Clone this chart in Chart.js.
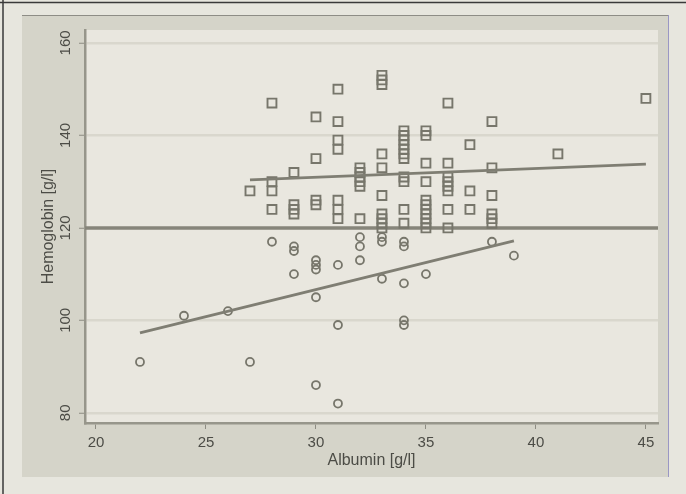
<!DOCTYPE html>
<html>
<head>
<meta charset="utf-8">
<script src="https://cdn.jsdelivr.net/npm/chart.js@4/dist/chart.umd.min.js"></script>
<style>
  html, body { margin: 0; padding: 0; background: #e7e6de; }
  #wrap { position: absolute; left: 0; top: 0; width: 686px; height: 494px; }
</style>
</head>
<body>
<div id="wrap"><canvas id="c" width="686" height="494"></canvas></div>
<script>
// ---- Data ----
// Hemoglobin >= 120 (square markers)
const squareAlb = [
  27,
  28, 28, 28, 28,
  29, 29, 29, 29,
  30, 30, 30, 30,
  31, 31, 31, 31, 31, 31, 31,
  32, 32, 32, 32, 32, 32,
  33, 33, 33, 33, 33, 33, 33, 33, 33, 33,
  34, 34, 34, 34, 34, 34, 34, 34, 34, 34, 34,
  35, 35, 35, 35, 35, 35, 35, 35, 35, 35, 35,
  36, 36, 36, 36, 36, 36, 36, 36,
  37, 37, 37,
  38, 38, 38, 38, 38, 38,
  41,
  45
];
const squareHb = [
  128,
  147, 130, 128, 124,
  132, 125, 124, 123,
  144, 135, 126, 125,
  150, 143, 139, 137, 126, 124, 122,
  133, 132, 131, 130, 129, 122,
  153, 152, 151, 136, 133, 127, 123, 122, 121, 120,
  141, 140, 139, 138, 137, 136, 135, 131, 130, 124, 121,
  141, 140, 134, 130, 126, 125, 124, 123, 122, 121, 120,
  147, 134, 131, 130, 129, 128, 124, 120,
  138, 128, 124,
  143, 133, 127, 123, 122, 121,
  136,
  148
];
// Hemoglobin < 120 (circle markers)
const circleAlb = [
  22, 24, 26, 27, 28,
  29, 29, 29,
  30, 30, 30, 30, 30,
  31, 31, 31,
  32, 32, 32,
  33, 33, 33,
  34, 34, 34, 34, 34,
  35, 38, 39
];
const circleHb = [
  91, 101, 102, 91, 117,
  116, 115, 110,
  113, 112, 111, 105, 86,
  112, 99, 82,
  118, 116, 113,
  118, 117, 109,
  117, 116, 108, 100, 99,
  110, 117, 114
];
// Fitted lines (end points)
const fitHighAlb = [27, 45];
const fitHighHb = [130.4, 133.8];
const fitLowAlb = [22, 39];
const fitLowHb = [97.3, 117.2];
// Reference line
const refHb = 120;
// Axes
const xTicks = [20, 25, 30, 35, 40, 45];
const yTicks = [80, 100, 120, 140, 160];
const xRange = [19.5, 45.55];
const yRange = [77.8, 162.8];

const toPts = (xs, ys) => xs.map((x, i) => ({ x: x, y: ys[i] }));

const markerColor = '#77766b';
const textColor = '#4c4c46';

const bgPlugin = {
  id: 'bg',
  beforeDraw(chart) {
    const ctx = chart.ctx;
    const a = chart.chartArea;
    ctx.save();
    ctx.fillStyle = '#e7e6de';
    ctx.fillRect(0, 0, 686, 494);
    ctx.strokeStyle = '#3a3a3a';
    ctx.lineWidth = 1.5;
    ctx.beginPath();
    ctx.moveTo(0, 2.5); ctx.lineTo(686, 2.5);
    ctx.moveTo(3, 0); ctx.lineTo(3, 494);
    ctx.stroke();
    ctx.fillStyle = '#d5d4c9';
    ctx.fillRect(22, 15, 646, 462);
    ctx.strokeStyle = '#8e8d86';
    ctx.lineWidth = 1;
    ctx.beginPath();
    ctx.moveTo(22, 15.5); ctx.lineTo(668, 15.5);
    ctx.stroke();
    ctx.strokeStyle = '#9a97c4';
    ctx.beginPath();
    ctx.moveTo(668.5, 15); ctx.lineTo(668.5, 477);
    ctx.stroke();
    ctx.fillStyle = '#e9e7df';
    ctx.fillRect(a.left, a.top, a.right - a.left, a.bottom - a.top);
    ctx.restore();
  }
};

new Chart(document.getElementById('c'), {
  type: 'scatter',
  data: {
    datasets: [
      {
        type: 'line',
        label: 'ref',
        data: [{ x: xRange[0], y: refHb }, { x: xRange[1], y: refHb }],
        borderColor: '#86857a',
        borderWidth: 3.5,
        pointRadius: 0,
        fill: false,
        order: 3
      },
      {
        label: 'Hb >= 120',
        data: toPts(squareAlb, squareHb),
        pointStyle: 'rect',
        pointRadius: 6.3,
        borderColor: markerColor,
        backgroundColor: 'rgba(0,0,0,0)',
        borderWidth: 1.9,
        order: 2
      },
      {
        label: 'Hb < 120',
        data: toPts(circleAlb, circleHb),
        pointStyle: 'circle',
        pointRadius: 4,
        borderColor: markerColor,
        backgroundColor: 'rgba(0,0,0,0)',
        borderWidth: 1.8,
        order: 2
      },
      {
        type: 'line',
        label: 'fit high',
        data: toPts(fitHighAlb, fitHighHb),
        borderColor: '#7f7e73',
        borderWidth: 2.8,
        pointRadius: 0,
        fill: false,
        order: 1
      },
      {
        type: 'line',
        label: 'fit low',
        data: toPts(fitLowAlb, fitLowHb),
        borderColor: '#7f7e73',
        borderWidth: 2.8,
        pointRadius: 0,
        fill: false,
        order: 1
      }
    ]
  },
  options: {
    responsive: false,
    animation: false,
    layout: { padding: { left: 22, top: 30, right: 28, bottom: 17 } },
    plugins: { legend: { display: false }, tooltip: { enabled: false } },
    scales: {
      x: {
        type: 'linear',
        min: xRange[0],
        max: xRange[1],
        afterBuildTicks: (s) => { s.ticks = xTicks.map(v => ({ value: v })); },
        afterFit: (s) => { s.height = 54; },
        grid: {
          drawOnChartArea: false,
          drawTicks: true,
          tickLength: 6,
          tickColor: '#8d8c82',
          tickWidth: 1
        },
        border: { display: true, color: '#97968b', width: 2.5 },
        ticks: {
          padding: 5,
          maxRotation: 0,
          minRotation: 0,
          color: textColor,
          font: { family: '"Liberation Sans", Arial, sans-serif', size: 15 }
        },
        title: {
          display: true,
          text: 'Albumin [g/l]',
          color: textColor,
          font: { family: '"Liberation Sans", Arial, sans-serif', size: 16 },
          padding: { top: 0, bottom: 7 }
        }
      },
      y: {
        type: 'linear',
        min: yRange[0],
        max: yRange[1],
        afterBuildTicks: (s) => { s.ticks = yTicks.map(v => ({ value: v })); },
        afterFit: (s) => { s.width = 63; },
        grid: {
          drawOnChartArea: true,
          color: (c) => (c.tick && c.tick.value === refHb) ? 'rgba(0,0,0,0)' : '#d9d7cd',
          lineWidth: 2.5,
          drawTicks: true,
          tickLength: 6,
          tickColor: '#8d8c82',
          tickWidth: 1
        },
        border: { display: true, color: '#97968b', width: 2.5 },
        ticks: {
          padding: 1,
          minRotation: 90,
          maxRotation: 90,
          crossAlign: 'center',
          color: textColor,
          font: { family: '"Liberation Sans", Arial, sans-serif', size: 15 }
        },
        title: {
          display: true,
          text: 'Hemoglobin [g/l]',
          color: textColor,
          font: { family: '"Liberation Sans", Arial, sans-serif', size: 16 },
          padding: { top: 17, bottom: 0 }
        }
      }
    }
  },
  plugins: [bgPlugin]
});
</script>
</body>
</html>
